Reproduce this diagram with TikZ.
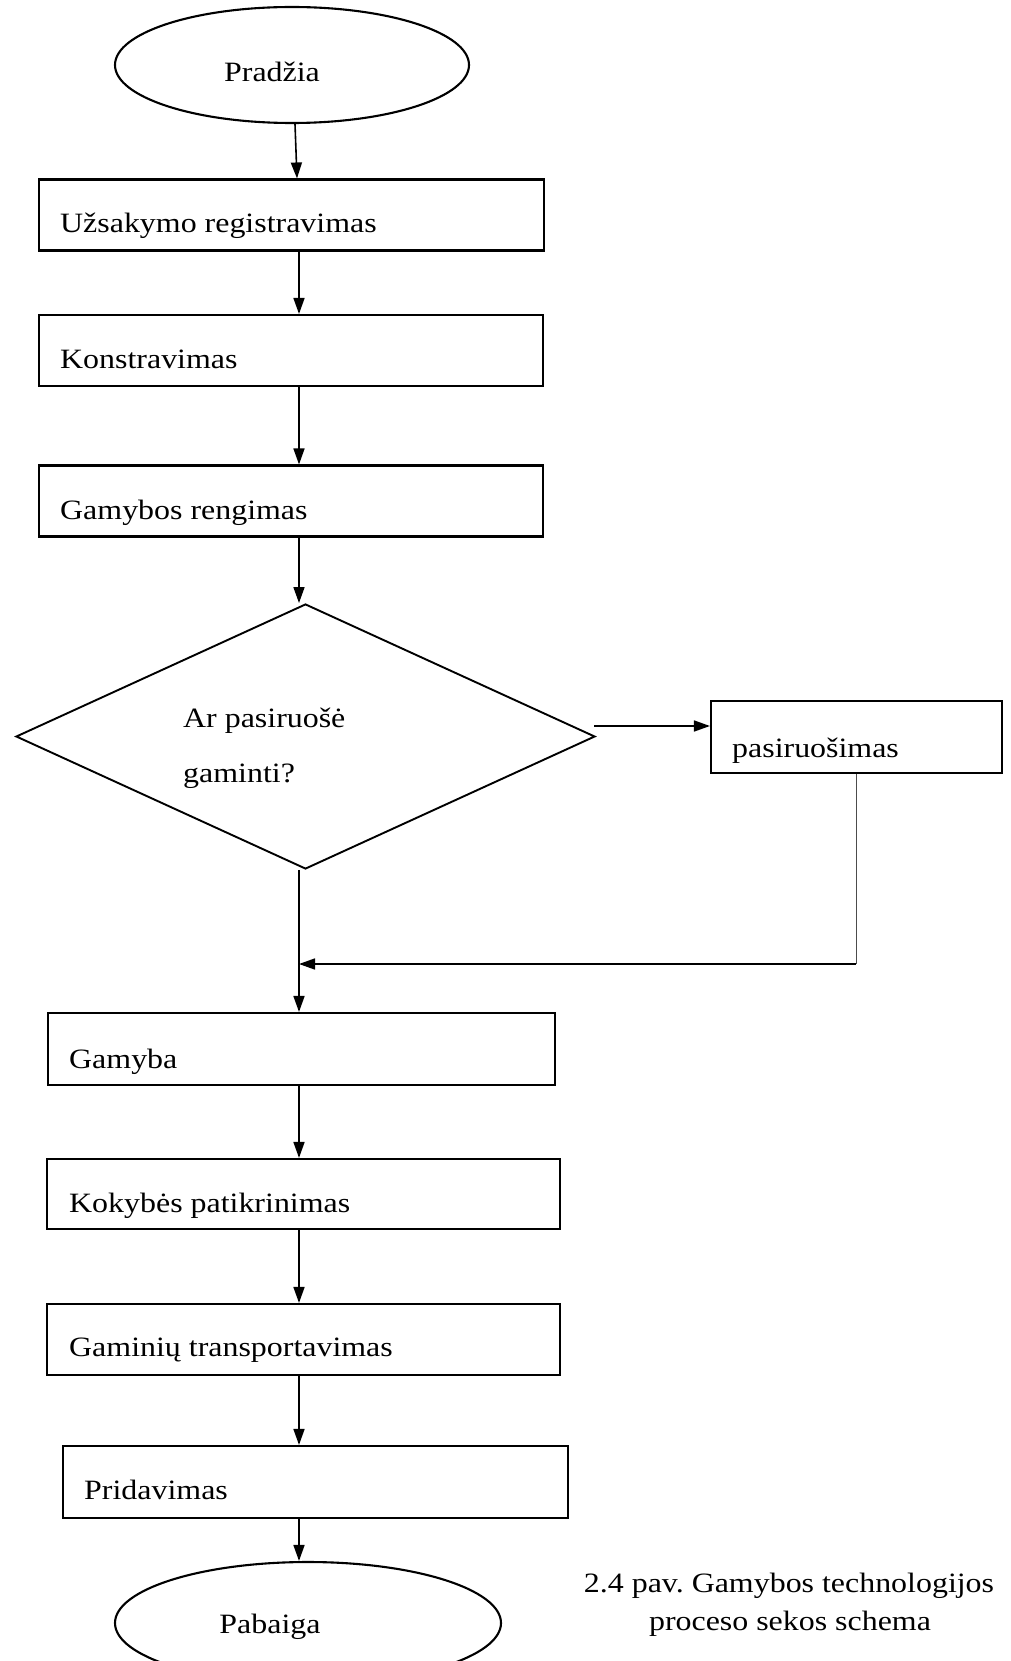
\documentclass[tikz,border=0pt]{standalone}
\usepackage{fontspec}
\setmainfont{Liberation Serif}[FakeStretch=1.14]
\usetikzlibrary{shapes.geometric,arrows.meta}
\frenchspacing
\begin{document}
\begin{tikzpicture}[x=1pt,y=-1pt,
  font=\fontsize{28}{34}\selectfont,
  stepbox/.style={draw,line width=2.1pt,rectangle,inner sep=0pt,minimum height=71pt},
  terminal/.style={draw,line width=2.1pt,ellipse,inner sep=0pt},
  decision/.style={draw,line width=1.9pt,diamond,inner sep=0pt},
  label/.style={anchor=base west,inner sep=0pt},
  arr/.style={line width=1.6pt,-{Triangle[length=16pt,width=11pt]}},
  thin/.style={line width=0.9pt,draw=black!70}]
\useasboundingbox (0,0) rectangle (1010,1661);
\clip (0,0) rectangle (1010,1661);

% terminals
\node[terminal,minimum width=354pt,minimum height=116pt] (start) at (292,65) {};
\node[anchor=base,inner sep=0pt] (startT) at (272,82) {Pradžia};
\node[terminal,minimum width=386pt,minimum height=122pt] (end) at (308,1623) {};
\node[anchor=base,inner sep=0pt] (endT) at (270,1633) {Pabaiga};

% process steps
\node[stepbox,minimum width=505pt] (b1) at (291.5,215) {};
\node[label] (t1) at (60,233) {Užsakymo registravimas};
\node[stepbox,minimum width=504pt] (b2) at (291,350.5) {};
\node[label] (t2) at (60,368) {Konstravimas};
\node[stepbox,minimum width=504pt] (b3) at (291,501) {};
\node[label] (t3) at (60,519) {Gamybos rengimas};

% decision
\node[decision,minimum width=579pt,minimum height=265pt] (d) at (305.5,736.5) {};
\node[label] (dt1) at (183,727) {Ar pasiruošė};
\node[label] (dt2) at (183,782) {gaminti?};

\node[stepbox,minimum width=291pt,minimum height=72pt] (p) at (856.5,737) {};
\node[label] (pt) at (732,757) {pasiruošimas};

\node[stepbox,minimum width=507pt,minimum height=72pt] (b4) at (301.5,1049) {};
\node[label] (t4) at (69,1068) {Gamyba};
\node[stepbox,minimum width=513pt,minimum height=70pt] (b5) at (303.5,1194) {};
\node[label] (t5) at (69,1212) {Kokybės patikrinimas};
\node[stepbox,minimum width=513pt,minimum height=71pt] (b6) at (303.5,1339.5) {};
\node[label] (t6) at (69,1356) {Gaminių transportavimas};
\node[stepbox,minimum width=505pt,minimum height=72pt] (b7) at (315.5,1482) {};
\node[label] (t7) at (84,1499) {Pridavimas};

% caption
\node[anchor=base,inner sep=0pt] (cap1) at (789,1592) {2.4 pav. Gamybos technologijos};
\node[anchor=base,inner sep=0pt] (cap2) at (790,1630) {proceso sekos schema};

% connectors
\coordinate (join) at (299,964);
\coordinate (turn) at (856,964);
\coordinate (yesout) at (594,726);
\draw[arr] ([xshift=3pt]start.south) -- ([xshift=5.5pt]b1.north);
\draw[arr] ([xshift=7.5pt]b1.south) -- ([xshift=8pt]b2.north);
\draw[arr] ([xshift=8pt]b2.south) -- ([xshift=8pt]b3.north);
\draw[arr] ([xshift=8pt]b3.south) -- ([xshift=-6.5pt]d.north);
\draw[arr] (yesout) -- (p.west |- yesout);
\draw[line width=1.3pt] ([xshift=-6.5pt]d.south) -- (join);
\draw[arr] (join) -- (b4.north -| join);
\draw[thin] (p.south -| turn) -- (turn);
\draw[arr] (turn) -- (join);
\draw[arr] (b4.south -| join) -- (b5.north -| join);
\draw[arr] (b5.south -| join) -- (b6.north -| join);
\draw[arr] (b6.south -| join) -- (b7.north -| join);
\draw[arr] (b7.south -| join) -- (end.north -| join);
\end{tikzpicture}
\end{document}
